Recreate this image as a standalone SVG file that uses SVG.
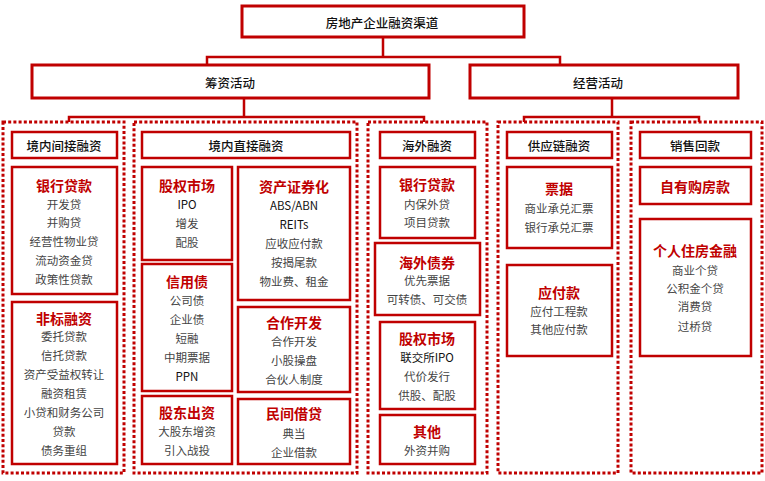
<svg xmlns="http://www.w3.org/2000/svg" width="765" height="481" viewBox="0 0 765 481">
<style>
.b{fill:#fff;stroke:#C00000;stroke-width:2.5}
.tb{fill:#fff;stroke:#C00000;stroke-width:3}
.d{fill:none;stroke:#C00000;stroke-width:3;stroke-dasharray:3 2.2}
.c{fill:none;stroke:#C00000;stroke-width:2.5}
text{font-family:"Noto Sans CJK SC","Liberation Sans",sans-serif;text-anchor:middle;dominant-baseline:central}
.h{font-size:12.5px;font-weight:500;fill:#111}
.t{font-size:14px;font-weight:bold;fill:#C00000}
.i{font-size:11.5px;fill:#444}
.k{font-size:11.5px;fill:#111}
</style>
<rect width="765" height="481" fill="#fff"/>
<g id="connectors">
<path class="c" d="M383 37V57M207 65V57H560V65"/>
<path class="c" d="M244 98V117M69 122V117H424V122"/>
<path class="c" d="M612 98V117M524 122V117H699V122"/>
</g>
<g id="root"><rect class="tb" x="242" y="6" width="282" height="31"/><text class="h" x="382" y="22">房地产企业融资渠道</text></g>
<g id="fund"><rect class="tb" x="32" y="65" width="397" height="33"/><text class="h" x="230" y="82">筹资活动</text></g>
<g id="oper"><rect class="tb" x="470" y="65" width="268" height="33"/><text class="h" x="598" y="82">经营活动</text></g>

<g id="col1">
<rect class="d" x="3" y="122" width="121" height="351"/>
<rect class="b" x="12" y="132" width="105" height="26"/><text class="h" x="64" y="145">境内间接融资</text>
<rect class="b" x="12" y="167" width="105" height="127"/>
<text class="t" x="64" y="185">银行贷款</text>
<text class="i" x="64" y="204">开发贷</text><text class="i" x="64" y="222">并购贷</text><text class="i" x="64" y="241">经营性物业贷</text><text class="i" x="64" y="260">流动资金贷</text><text class="i" x="64" y="279">政策性贷款</text>
<rect class="b" x="12" y="302" width="105" height="162"/>
<text class="t" x="64" y="318">非标融资</text>
<text class="i" x="64" y="336">委托贷款</text><text class="i" x="64" y="355">信托贷款</text><text class="i" x="64" y="374">资产受益权转让</text><text class="i" x="64" y="393">融资租赁</text><text class="i" x="64" y="412">小贷和财务公司</text><text class="i" x="64" y="431">贷款</text><text class="i" x="64" y="450">债务重组</text>
</g>

<g id="col2">
<rect class="d" x="134" y="122" width="223" height="351"/>
<rect class="b" x="142" y="132" width="208" height="26"/><text class="h" x="246" y="145">境内直接融资</text>
<rect class="b" x="142" y="167" width="90" height="93"/>
<text class="t" x="187" y="185">股权市场</text>
<text class="k" x="187" y="204">IPO</text><text class="i" x="187" y="223">增发</text><text class="i" x="187" y="242">配股</text>
<rect class="b" x="142" y="264" width="90" height="127"/>
<text class="t" x="187" y="281">信用债</text>
<text class="i" x="187" y="300">公司债</text><text class="i" x="187" y="319">企业债</text><text class="i" x="187" y="338">短融</text><text class="i" x="187" y="357">中期票据</text><text class="k" x="187" y="376">PPN</text>
<rect class="b" x="142" y="396" width="90" height="68"/>
<text class="t" x="187" y="412">股东出资</text>
<text class="i" x="187" y="431">大股东增资</text><text class="i" x="187" y="450">引入战投</text>
<rect class="b" x="238" y="167" width="112" height="133"/>
<text class="t" x="294" y="186">资产证券化</text>
<text class="k" x="294" y="205">ABS/ABN</text><text class="k" x="294" y="224">REITs</text><text class="i" x="294" y="243">应收应付款</text><text class="i" x="294" y="262">按揭尾款</text><text class="i" x="294" y="281">物业费、租金</text>
<rect class="b" x="238" y="307" width="112" height="85"/>
<text class="t" x="294" y="322">合作开发</text>
<text class="i" x="294" y="341">合作开发</text><text class="i" x="294" y="360">小股操盘</text><text class="i" x="294" y="379">合伙人制度</text>
<rect class="b" x="238" y="399" width="112" height="65"/>
<text class="t" x="294" y="413">民间借贷</text>
<text class="i" x="294" y="433">典当</text><text class="i" x="294" y="452">企业借款</text>
</g>

<g id="col3">
<rect class="d" x="368" y="122" width="119" height="351"/>
<rect class="b" x="380" y="132" width="95" height="26"/><text class="h" x="427" y="145">海外融资</text>
<rect class="b" x="380" y="167" width="95" height="71"/>
<text class="t" x="427" y="184">银行贷款</text>
<text class="i" x="427" y="204">内保外贷</text><text class="i" x="427" y="222">项目贷款</text>
<rect class="b" x="375" y="243" width="105" height="72"/>
<text class="t" x="427" y="262">海外债券</text>
<text class="i" x="427" y="280">优先票据</text><text class="i" x="427" y="299">可转债、可交债</text>
<rect class="b" x="380" y="322" width="95" height="87"/>
<text class="t" x="427" y="338">股权市场</text>
<text class="k" x="427" y="357">联交所IPO</text><text class="i" x="427" y="376">代价发行</text><text class="i" x="427" y="395">供股、配股</text>
<rect class="b" x="380" y="415" width="95" height="49"/>
<text class="t" x="427" y="431">其他</text>
<text class="i" x="427" y="450">外资并购</text>
</g>

<g id="col4">
<rect class="d" x="498" y="122" width="120" height="351"/>
<rect class="b" x="507" y="132" width="105" height="26"/><text class="h" x="559" y="145">供应链融资</text>
<rect class="b" x="507" y="167" width="105" height="81"/>
<text class="t" x="559" y="188">票据</text>
<text class="i" x="559" y="208">商业承兑汇票</text><text class="i" x="559" y="227">银行承兑汇票</text>
<rect class="b" x="507" y="265" width="105" height="91"/>
<text class="t" x="559" y="292">应付款</text>
<text class="i" x="559" y="311">应付工程款</text><text class="i" x="559" y="329">其他应付款</text>
</g>

<g id="col5">
<rect class="d" x="631" y="122" width="131" height="351"/>
<rect class="b" x="640" y="132" width="111" height="26"/><text class="h" x="695" y="145">销售回款</text>
<rect class="b" x="640" y="167" width="111" height="37"/>
<text class="t" x="695" y="186">自有购房款</text>
<rect class="b" x="640" y="219" width="111" height="137"/>
<text class="t" x="695" y="250">个人住房金融</text>
<text class="i" x="695" y="270">商业个贷</text><text class="i" x="695" y="288">公积金个贷</text><text class="i" x="695" y="306">消费贷</text><text class="i" x="695" y="326">过桥贷</text>
</g>
</svg>
